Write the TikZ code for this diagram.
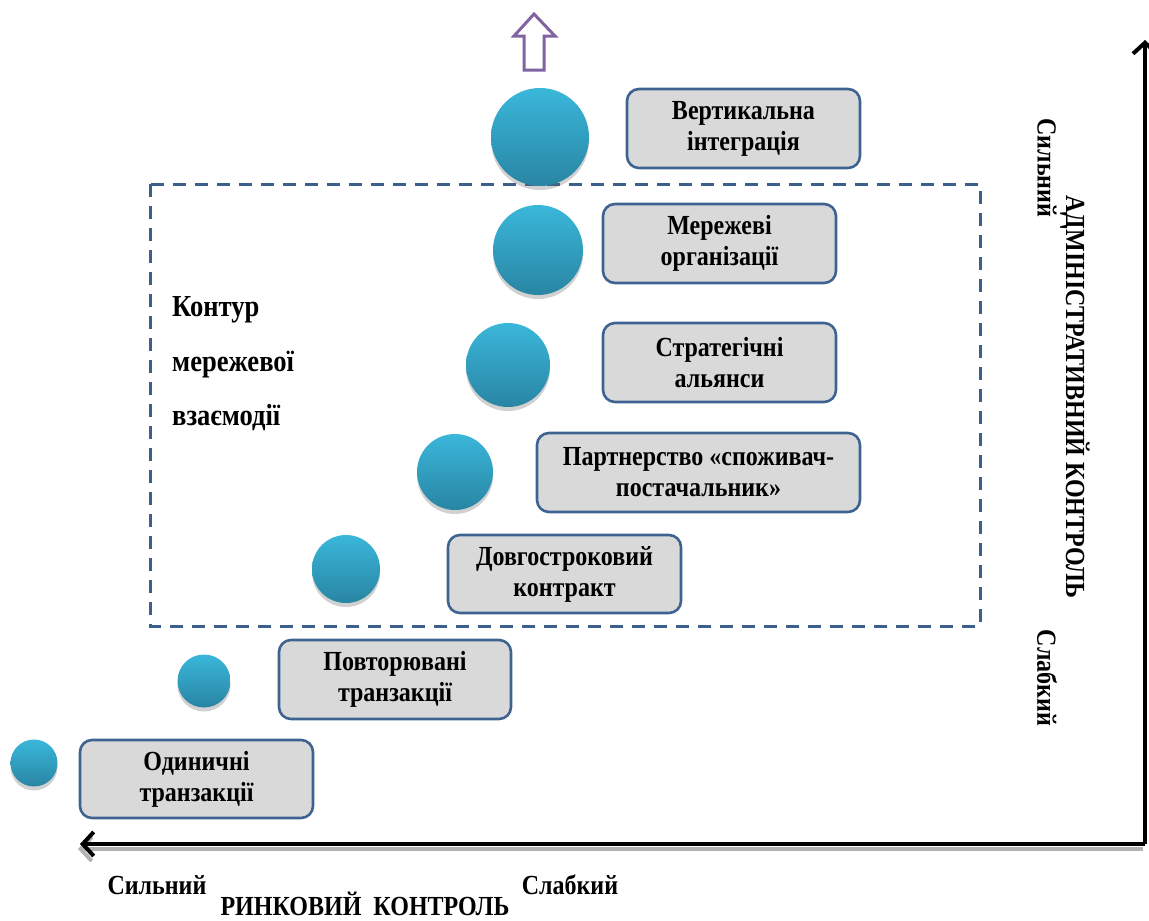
\documentclass[tikz,border=0pt]{standalone}
\usepackage{fontspec}
\setmainfont{Liberation Serif}[FakeStretch=0.87]
\usetikzlibrary{shadows,arrows.meta}
\definecolor{ballTop}{HTML}{3AB7DA}
\definecolor{ballBot}{HTML}{2985A3}
\definecolor{boxFill}{HTML}{D9D9D9}
\definecolor{boxLine}{HTML}{3F6390}
\definecolor{dashLine}{HTML}{3D5F8C}
\definecolor{arrowPurple}{HTML}{8064A2}
\tikzset{
  ball/.style={circle, inner sep=0pt, top color=ballTop, bottom color=ballBot,
    drop shadow={opacity=0.3, shadow xshift=0pt, shadow yshift=-4pt, fill=black!60}},
  stagebox/.style={draw=boxLine, line width=2.6pt, fill=boxFill, rounded corners=12pt,
    align=center, font=\bfseries\fontsize{27.6}{31}\selectfont, inner sep=0pt},
  lbl/.style={font=\bfseries\fontsize{27.6}{29}\selectfont, inner sep=0pt},
  biglbl/.style={font=\bfseries\fontsize{30.5}{30}\selectfont, inner sep=0pt},
  axisline/.style={line width=4pt, -{Straight Barb[length=11pt,width=24pt,line width=4pt]}},
  axisshadow/.style={line width=4pt, black!30, -{Straight Barb[length=11pt,width=24pt,line width=4pt]}}
}
\begin{document}
\begin{tikzpicture}[x=1pt,y=-1pt]
\useasboundingbox (0,0) rectangle (1149,921);
% contour
\draw[dashLine, line width=3pt, dash pattern=on 13pt off 9pt] (150,184) rectangle (980,626);
% axes
\coordinate (corner) at (1145,844);
\coordinate (axtop) at (1145,40);
\coordinate (axleft) at (80,844);
\draw[axisshadow] ([shift={(-2,5)}]corner) -- ([shift={(-2,5)}]axleft);
\draw[axisline] (corner) -- (axtop);
\draw[axisline] (corner) -- (axleft);
% spheres
\node[ball, minimum size=47pt] (s1) at (34,763) {};
\node[ball, minimum size=53pt] (s2) at (204,681) {};
\node[ball, minimum size=68pt] (s3) at (346,569) {};
\node[ball, minimum size=76pt] (s4) at (455,472) {};
\node[ball, minimum size=84pt] (s5) at (508,365) {};
\node[ball, minimum size=90pt] (s6) at (538,250) {};
\node[ball, minimum size=98pt] (s7) at (540,137) {};
% boxes
\node[stagebox, minimum width=233pt, minimum height=78pt] (b1) at (196.5,779) {Одиничні\\транзакції};
\node[stagebox, minimum width=232pt, minimum height=79pt] (b2) at (395,679.5) {Повторювані\\транзакції};
\node[stagebox, minimum width=233pt, minimum height=78pt] (b3) at (564.5,574) {Довгостроковий\\контракт};
\node[stagebox, minimum width=323pt, minimum height=79pt] (b4) at (698.5,472.5) {Партнерство «споживач-\\постачальник»};
\node[stagebox, minimum width=233pt, minimum height=79pt] (b5) at (719.5,362.5) {Стратегічні\\альянси};
\node[stagebox, minimum width=233pt, minimum height=79pt] (b6) at (719.5,243.5) {Мережеві\\організації};
\node[stagebox, minimum width=233pt, minimum height=79pt] (b7) at (743.5,128.5) {Вертикальна\\інтеграція};
% purple hollow arrow
\draw[arrowPurple, line width=3pt, fill=white, line join=miter]
  (524,70) -- (524,36) -- (514,36) -- (534,14) -- (555,36) -- (544,36) -- (544,70) -- cycle;
% contour label
\node[biglbl, anchor=west] (c1) at (172,310) {Контур};
\node[biglbl, anchor=west] (c2) at (172,365) {мережевої};
\node[biglbl, anchor=west] (c3) at (172,418) {взаємодії};
% bottom labels
\node[lbl] (ms) at (157,885) {Сильний};
\node[lbl] (mw) at (570,885) {Слабкий};
\node[lbl, anchor=base] (mt) at (365,915) {РИНКОВИЙ\ \ КОНТРОЛЬ};
% right labels
\node[lbl, rotate=-90] (as) at (1047,168) {Сильний};
\node[lbl, rotate=-90] (at) at (1075,397) {АДМІНІСТРАТИВНИЙ КОНТРОЛЬ};
\node[lbl, rotate=-90] (aw) at (1047,678) {Слабкий};
\end{tikzpicture}
\end{document}
